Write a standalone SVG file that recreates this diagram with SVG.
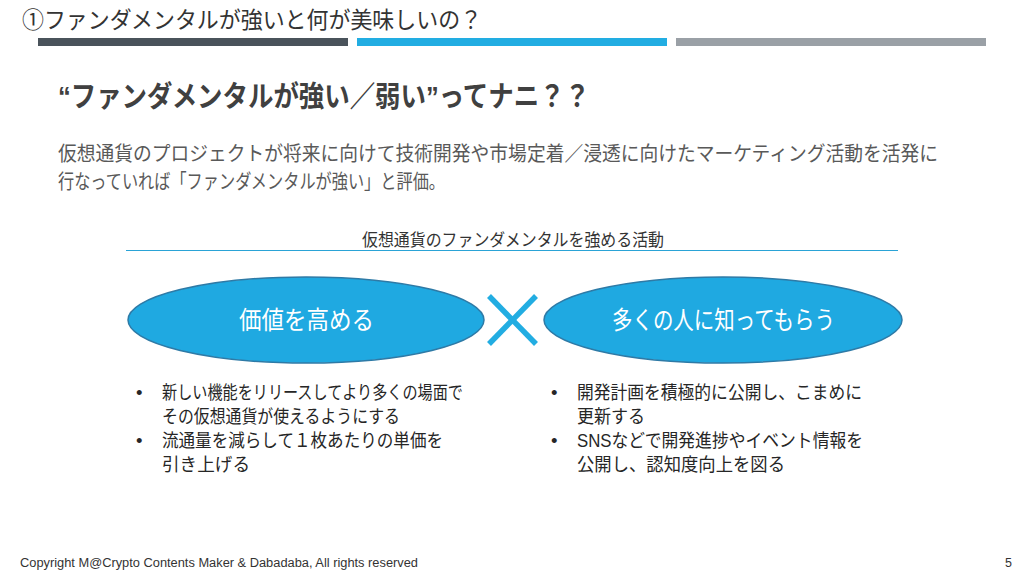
<svg xmlns="http://www.w3.org/2000/svg" width="1024" height="576" viewBox="0 0 1024 576">
<style>
.jp{font-family:"Liberation Sans","Noto Sans CJK JP",sans-serif}
.title{font-size:23px;fill:#333}
.head{font-size:29px;font-weight:bold;fill:#404040}
.para{font-size:20px;fill:#595959}
.sub{font-size:17.5px;fill:#333}
.ell{fill:#1fa9e1;stroke:#2e7aa6;stroke-width:1.5}
.etext{font-size:25px;fill:#fff}
.bul{font-size:18.5px;fill:#262626}
.foot{font-size:12.5px;fill:#333}
</style>
<rect width="1024" height="576" fill="#fff"/>
<g id="header">
<text class="jp title" x="22" y="28" textLength="460" lengthAdjust="spacingAndGlyphs">①ファンダメンタルが強いと何が美味しいの？</text>
<rect x="38" y="38" width="310" height="8" fill="#4a535b"/>
<rect x="357" y="38" width="310" height="8" fill="#22ade2"/>
<rect x="676" y="38" width="310" height="8" fill="#9aa0a6"/>
</g>
<g id="heading">
<text class="jp head" x="58" y="107" textLength="532" lengthAdjust="spacingAndGlyphs">“ファンダメンタルが強い／弱い”ってナニ？？</text>
<text class="jp para" x="58" y="161" textLength="880" lengthAdjust="spacingAndGlyphs">仮想通貨のプロジェクトが将来に向けて技術開発や市場定着／浸透に向けたマーケティング活動を活発に</text>
<text class="jp para" x="58" y="189" textLength="387" lengthAdjust="spacingAndGlyphs">行なっていれば「ファンダメンタルが強い」と評価。</text>
</g>
<g id="subtitle">
<text class="jp sub" x="362" y="246" textLength="302" lengthAdjust="spacingAndGlyphs">仮想通貨のファンダメンタルを強める活動</text>
<line x1="126" y1="250.5" x2="898" y2="250.5" stroke="#2aa3d6" stroke-width="1.2"/>
</g>
<g id="connectors">
<line x1="489" y1="296" x2="536" y2="344" stroke="#22ade2" stroke-width="5.5"/>
<line x1="536" y1="296" x2="489" y2="344" stroke="#22ade2" stroke-width="5.5"/>
</g>
<g id="node-value">
<ellipse class="ell" cx="306" cy="320" rx="178" ry="43"/>
<text class="jp etext" x="239" y="329" textLength="135" lengthAdjust="spacingAndGlyphs">価値を高める</text>
</g>
<g id="node-awareness">
<ellipse class="ell" cx="723" cy="320" rx="179" ry="43"/>
<text class="jp etext" x="612" y="329" textLength="223" lengthAdjust="spacingAndGlyphs">多くの人に知ってもらう</text>
</g>
<g id="bullets-left">
<text class="jp bul" x="136" y="399">•</text>
<text class="jp bul" x="162" y="399" textLength="301" lengthAdjust="spacingAndGlyphs">新しい機能をリリースしてより多くの場面で</text>
<text class="jp bul" x="162" y="423" textLength="238" lengthAdjust="spacingAndGlyphs">その仮想通貨が使えるようにする</text>
<text class="jp bul" x="136" y="447">•</text>
<text class="jp bul" x="162" y="447" textLength="281" lengthAdjust="spacingAndGlyphs">流通量を減らして１枚あたりの単価を</text>
<text class="jp bul" x="162" y="471" textLength="88" lengthAdjust="spacingAndGlyphs">引き上げる</text>
</g>
<g id="bullets-right">
<text class="jp bul" x="551" y="399">•</text>
<text class="jp bul" x="577" y="399" textLength="285" lengthAdjust="spacingAndGlyphs">開発計画を積極的に公開し、こまめに</text>
<text class="jp bul" x="577" y="423" textLength="68" lengthAdjust="spacingAndGlyphs">更新する</text>
<text class="jp bul" x="551" y="447">•</text>
<text class="jp bul" x="577" y="447" textLength="286" lengthAdjust="spacingAndGlyphs">SNSなどで開発進捗やイベント情報を</text>
<text class="jp bul" x="577" y="471" textLength="208" lengthAdjust="spacingAndGlyphs">公開し、認知度向上を図る</text>
</g>
<g id="footer">
<text class="jp foot" x="20" y="567" textLength="398" lengthAdjust="spacingAndGlyphs">Copyright M@Crypto Contents Maker &amp; Dabadaba, All rights reserved</text>
<text class="jp foot" x="1012" y="567" text-anchor="end">5</text>
</g>
</svg>
